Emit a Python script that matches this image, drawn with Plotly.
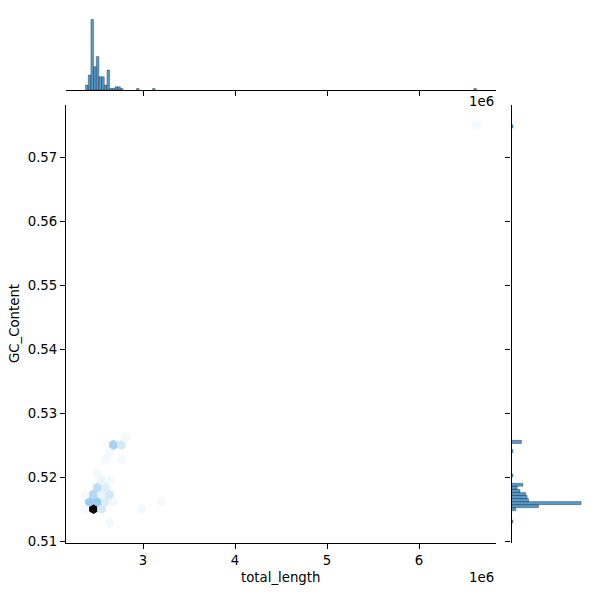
import colorsys
import numpy as np
import plotly.graph_objects as go

# ---------------- data (x in units of 1e6) ----------------
# hexbin cells: centre x, centre y, count
hex_x = [2.6356,
         2.3755, 2.4622, 2.5489, 2.9825,
         2.4189, 2.5056, 2.5923, 2.6790, 3.1993,
         2.3755, 2.4622, 2.5489, 2.6356,
         2.5056, 2.5923,
         2.5489, 2.6356,
         2.5056,
         2.5923, 2.7657,
         2.6356,
         2.6790, 2.7657,
         2.8091,
         6.6245]
hex_y = [0.51290,
         0.51512, 0.51512, 0.51512, 0.51512,
         0.51623, 0.51623, 0.51623, 0.51623, 0.51623,
         0.51734, 0.51734, 0.51734, 0.51734,
         0.51845, 0.51845,
         0.51955, 0.51955,
         0.52066,
         0.52288, 0.52288,
         0.52399,
         0.52510, 0.52510,
         0.52621,
         0.57500]
hex_count = [1,
             1, 40, 4, 1,
             9, 9, 3, 1, 1,
             1, 7, 2, 4,
             6, 3,
             2, 1,
             1,
             1, 1,
             1,
             8, 4,
             1,
             1]

# top marginal histogram (total_length)
xhist_start = 2.3755
xhist_width = 0.029103
xhist_bin = [0, 1, 2, 3, 4, 5, 6, 7, 8, 9, 10, 11, 12, 13, 19, 25, 145]
xhist_count = [3, 9, 42, 14, 20, 8, 8, 3, 12, 1, 1, 2, 2, 1, 1, 1, 1]

# right marginal histogram (GC_Content)
yhist_start = 0.5129
yhist_width = 0.000478
yhist_bin = [0, 4, 5, 6, 7, 8, 9, 10, 11, 12, 15, 23, 26, 129]
yhist_count = [1, 3, 19, 49, 12, 11, 10, 6, 4, 8, 1, 1, 7, 1]

x_ticks = [3, 4, 5, 6]
x_tick_labels = ["3", "4", "5", "6"]
y_ticks = [0.51, 0.52, 0.53, 0.54, 0.55, 0.56, 0.57]
y_tick_labels = ["0.51", "0.52", "0.53", "0.54", "0.55", "0.56", "0.57"]

# ---------------- style ----------------
HEX_DX = 0.08671
HEX_DY = 0.002218
X_RANGE = [2.16305, 6.83695]
Y_RANGE = [0.50980, 0.57811]
BASE = (31 / 255, 119 / 255, 180 / 255)
BAR_COLOR = "rgba(31,119,180,0.75)"
FONT = "DejaVu Sans"
FIG_W, FIG_H = 600, 607

h, l, s = colorsys.rgb_to_hls(*BASE)
pal = [colorsys.hls_to_rgb(h, li, s) for li in np.linspace(1, 0, 12)]


def cmap(t):
    pos = max(0.0, min(1.0, t)) * 11
    i = min(int(pos), 10)
    f = pos - i
    c = [pal[i][k] * (1 - f) + pal[i + 1][k] * f for k in range(3)]
    c = [max(0, min(255, round(v * 255))) for v in c]
    return "rgb(%d,%d,%d)" % tuple(c)


def hex_poly(cx, cy):
    ox = np.array([.5, .5, 0, -.5, -.5, 0, .5]) * HEX_DX
    oy = np.array([-.5, .5, 1, .5, -.5, -1, -.5]) * HEX_DY / 3
    return cx + ox, cy + oy


fig = go.Figure()
vmax = max(hex_count)
for cx, cy, c in zip(hex_x, hex_y, hex_count):
    px_, py_ = hex_poly(cx, cy)
    col = cmap(c / vmax)
    fig.add_trace(go.Scatter(x=px_, y=py_, fill="toself", fillcolor=col,
                             mode="lines", line=dict(color=col, width=0.8),
                             hoverinfo="skip", showlegend=False,
                             xaxis="x", yaxis="y"))

fig.add_trace(go.Bar(
    x=[xhist_start + (b + 0.5) * xhist_width for b in xhist_bin],
    y=xhist_count, width=xhist_width,
    marker=dict(color=BAR_COLOR, line=dict(color="black", width=0.3)),
    showlegend=False, xaxis="x2", yaxis="y2"))

fig.add_trace(go.Bar(
    y=[yhist_start + (b + 0.5) * yhist_width for b in yhist_bin],
    x=yhist_count, width=yhist_width, orientation="h",
    marker=dict(color=BAR_COLOR, line=dict(color="black", width=0.3)),
    showlegend=False, xaxis="x3", yaxis="y3"))

axis_common = dict(ticks="outside", ticklen=5, tickwidth=1.1, tickcolor="black",
                   showline=True, linecolor="black", linewidth=1.1,
                   showgrid=False, zeroline=False,
                   tickfont=dict(family=FONT, size=13.3, color="black"))

MAIN_X = [0.11, 0.82667]
MAIN_Y = [0.09667, 0.825]

fig.update_layout(
    width=FIG_W, height=FIG_H,
    margin=dict(l=0, r=0, t=0, b=0),
    paper_bgcolor="white", plot_bgcolor="white",
    font=dict(family=FONT, size=13.3, color="black"),
    xaxis=dict(domain=MAIN_X, range=X_RANGE, anchor="y",
               tickvals=x_ticks, ticktext=x_tick_labels, **axis_common),
    yaxis=dict(domain=MAIN_Y, range=Y_RANGE, anchor="x",
               tickvals=y_ticks, ticktext=y_tick_labels, **axis_common),
    xaxis2=dict(domain=MAIN_X, range=X_RANGE, anchor="y2",
                tickvals=x_ticks, showticklabels=False, **axis_common),
    yaxis2=dict(domain=[0.85, 0.9733], range=[0, max(xhist_count) * 1.05],
                anchor="x2", visible=False),
    xaxis3=dict(domain=[0.8525, 0.9742], range=[0, max(yhist_count) * 1.05],
                anchor="y3", visible=False),
    yaxis3=dict(domain=MAIN_Y, range=Y_RANGE, anchor="x3",
                tickvals=y_ticks, showticklabels=False, **axis_common),
    annotations=[
        dict(text="total_length", x=0.4683, y=1 - 577 / 600, xref="paper", yref="paper",
             xanchor="center", yanchor="middle", showarrow=False,
             font=dict(family=FONT, size=13.3, color="black")),
        dict(text="GC_Content", x=14 / 600, y=1 - 323.5 / 600, xref="paper", yref="paper",
             xanchor="center", yanchor="middle", textangle=-90, showarrow=False,
             font=dict(family=FONT, size=13.3, color="black")),
        dict(text="1e6", x=0.8267, y=1 - 577 / 600, xref="paper", yref="paper",
             xanchor="right", yanchor="middle", showarrow=False,
             font=dict(family=FONT, size=13.3, color="black")),
        dict(text="1e6", x=0.8267, y=1 - 101 / 600, xref="paper", yref="paper",
             xanchor="right", yanchor="middle", showarrow=False,
             font=dict(family=FONT, size=13.3, color="black")),
    ],
)

fig.write_html("out.html", config={"displayModeBar": False},
               post_script="document.body.style.margin='0';document.body.style.overflow='hidden';")
